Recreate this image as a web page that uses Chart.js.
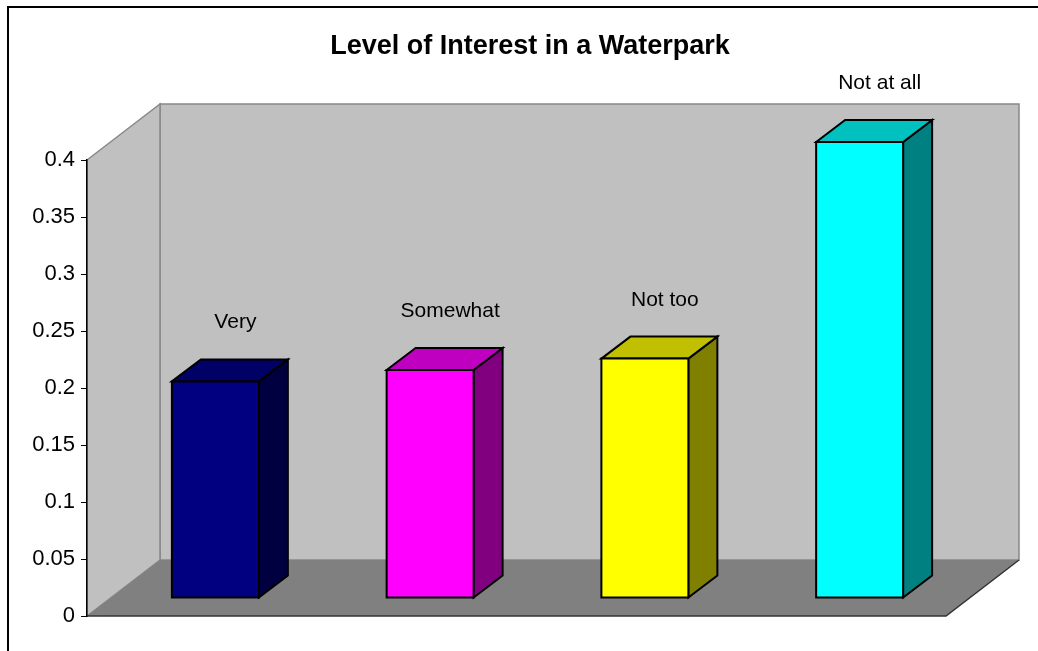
<!DOCTYPE html>
<html>
<head>
<meta charset="utf-8">
<script src="https://cdn.jsdelivr.net/npm/chart.js@4/dist/chart.umd.min.js"></script>
<style>
  html, body { margin: 0; padding: 0; background: #fff; }
  #wrap { width: 1038px; height: 651px; position: relative; }
</style>
</head>
<body>
<div id="wrap"><canvas id="chart"></canvas></div>
<script>
// chart data
const categories = ["Very", "Somewhat", "Not too", "Not at all"];
const shares = [0.19, 0.2, 0.21, 0.4];
const yTicks = [0, 0.05, 0.1, 0.15, 0.2, 0.25, 0.3, 0.35, 0.4];
const chartTitle = "Level of Interest in a Waterpark";

// face colours per bar: front / top / side
const frontColors = ["#000080", "#ff00ff", "#ffff00", "#00ffff"];
const topColors = ["#000066", "#c000c0", "#c0c000", "#00c0c0"];
const sideColors = ["#000040", "#800080", "#808000", "#008080"];

const FONT = "'Liberation Sans', Arial, sans-serif";

// oblique depth of the plot box and of the bars
const WALL_DX = 73, WALL_DY = -56;
const BAR_OFF_X = 21, BAR_OFF_Y = -18;
const BAR_DX = 29, BAR_DY = -22;

function poly(ctx, pts, fill, stroke, lw) {
  ctx.beginPath();
  ctx.moveTo(pts[0][0], pts[0][1]);
  for (let i = 1; i < pts.length; i++) ctx.lineTo(pts[i][0], pts[i][1]);
  ctx.closePath();
  if (fill) { ctx.fillStyle = fill; ctx.fill(); }
  if (stroke) { ctx.strokeStyle = stroke; ctx.lineWidth = lw || 1; ctx.stroke(); }
}

const box3d = {
  id: "box3d",
  beforeDraw(chart) {
    const ctx = chart.ctx;
    const a = chart.chartArea;
    const L = a.left, R = a.right, T = a.top, B = a.bottom;
    ctx.save();
    // outer frame
    ctx.strokeStyle = "#000";
    ctx.lineWidth = 2;
    ctx.beginPath();
    ctx.moveTo(8, 660);
    ctx.lineTo(8, 7);
    ctx.lineTo(1045, 7);
    ctx.stroke();
    // back wall
    poly(ctx, [[L + WALL_DX, T + WALL_DY], [R + WALL_DX, T + WALL_DY], [R + WALL_DX, B + WALL_DY], [L + WALL_DX, B + WALL_DY]], "#c0c0c0", "#888", 1.5);
    // left wall
    poly(ctx, [[L, T], [L + WALL_DX, T + WALL_DY], [L + WALL_DX, B + WALL_DY], [L, B]], "#c0c0c0", "#888", 1.5);
    // floor
    poly(ctx, [[L, B], [L + WALL_DX, B + WALL_DY], [R + WALL_DX, B + WALL_DY], [R, B]], "#808080", null);
    ctx.strokeStyle = "#333";
    ctx.lineWidth = 1.5;
    ctx.beginPath();
    ctx.moveTo(L, B);
    ctx.lineTo(R, B);
    ctx.lineTo(R + WALL_DX, B + WALL_DY);
    ctx.stroke();
    ctx.restore();
  },
  afterDatasetsDraw(chart) {
    const ctx = chart.ctx;
    const meta = chart.getDatasetMeta(0);
    ctx.save();
    ctx.lineJoin = "miter";
    meta.data.forEach((bar, i) => {
      const half = bar.width / 2;
      const x0 = bar.x - half + BAR_OFF_X, x1 = bar.x + half + BAR_OFF_X;
      const yTop = bar.y + BAR_OFF_Y, yBot = bar.base + BAR_OFF_Y;
      // side
      poly(ctx, [[x1, yTop], [x1 + BAR_DX, yTop + BAR_DY], [x1 + BAR_DX, yBot + BAR_DY], [x1, yBot]], sideColors[i], "#000", 2);
      // top
      poly(ctx, [[x0, yTop], [x0 + BAR_DX, yTop + BAR_DY], [x1 + BAR_DX, yTop + BAR_DY], [x1, yTop]], topColors[i], "#000", 2);
      // front
      poly(ctx, [[x0, yTop], [x1, yTop], [x1, yBot], [x0, yBot]], frontColors[i], "#000", 2);
    });
    ctx.restore();
  },
  afterDraw(chart) {
    const ctx = chart.ctx;
    const meta = chart.getDatasetMeta(0);
    ctx.save();
    ctx.fillStyle = "#000";
    ctx.textAlign = "center";
    ctx.textBaseline = "alphabetic";
    ctx.font = "bold 27px " + FONT;
    ctx.fillText(chartTitle, 530, 54);
    ctx.font = "21px " + FONT;
    meta.data.forEach((bar, i) => {
      const cx = bar.x + BAR_OFF_X + 20;
      const yBackTop = bar.y + BAR_OFF_Y + BAR_DY;
      ctx.fillText(categories[i], cx, yBackTop - 31);
    });
    ctx.restore();
  }
};

new Chart(document.getElementById("chart"), {
  type: "bar",
  data: {
    labels: categories,
    datasets: [{
      data: shares,
      backgroundColor: "rgba(0,0,0,0)",
      borderWidth: 0,
      barPercentage: 0.405,
      categoryPercentage: 1
    }]
  },
  options: {
    responsive: true,
    maintainAspectRatio: false,
    animation: false,
    layout: { padding: { top: 160, right: 92, bottom: 35, left: 0 } },
    plugins: {
      legend: { display: false },
      tooltip: { enabled: false },
      title: { display: false }
    },
    scales: {
      x: { display: false },
      y: {
        min: 0,
        max: 0.4,
        afterFit: (scale) => { scale.width = 87; },
        afterBuildTicks: (scale) => { scale.ticks = yTicks.map((v) => ({ value: v })); },
        ticks: {
          padding: 6,
          color: "#000",
          font: { family: FONT, size: 22 },
          callback: (v) => String(+Number(v).toFixed(2))
        },
        grid: {
          drawOnChartArea: false,
          drawTicks: true,
          tickLength: 6,
          tickColor: "#000"
        },
        border: { display: true, color: "#000", width: 1.5 }
      }
    }
  },
  plugins: [box3d]
});
</script>
</body>
</html>
